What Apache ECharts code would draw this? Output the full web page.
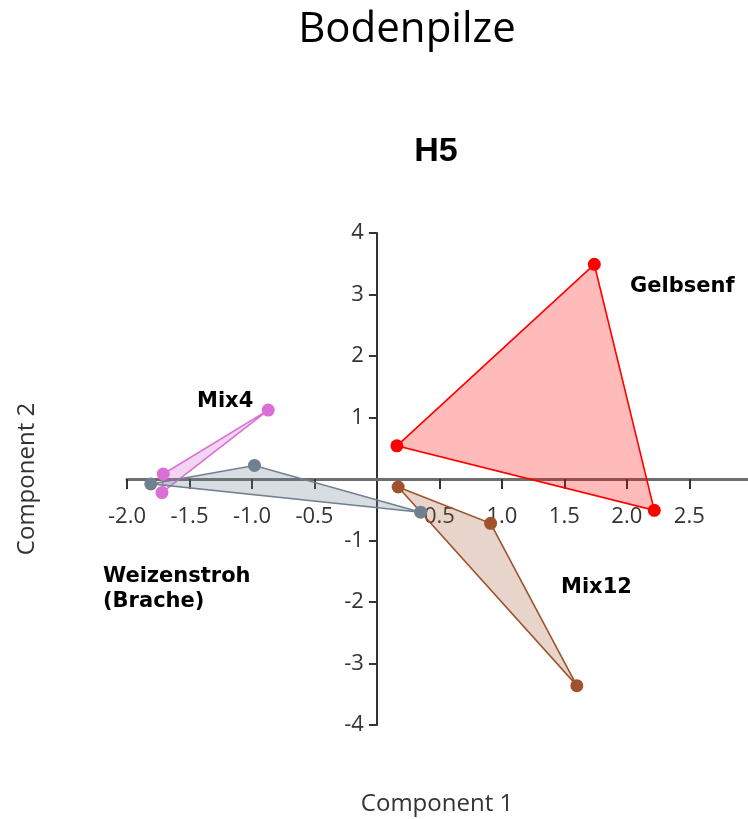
<!DOCTYPE html>
<html>
<head>
<meta charset="utf-8">
<script src="https://cdn.jsdelivr.net/npm/echarts@6/dist/echarts.min.js"></script>
<style>
html,body{margin:0;padding:0;background:#fff;}
#chart{width:748px;height:819px;}
</style>
</head>
<body>
<div id="chart"></div>
<script>
// Data (Component 1, Component 2)
const groupNames = ['Gelbsenf', 'Mix12', 'Weizenstroh (Brache)', 'Mix4'];
const gelbsenf = [[1.74, 3.49], [0.16, 0.54], [2.22, -0.51]];
const mix12 = [[0.17, -0.13], [0.91, -0.72], [1.60, -3.36]];
const weizenstroh = [[-1.81, -0.08], [-0.98, 0.22], [0.35, -0.54]];
const mix4 = [[-0.87, 1.12], [-1.71, 0.08], [-1.72, -0.22]];
const xTicks = [-2.0, -1.5, -1.0, -0.5, 0.5, 1.0, 1.5, 2.0, 2.5];
const yTicks = [-4, -3, -2, -1, 1, 2, 3, 4];
const xRange = [-2.0, 2.97];
const yRange = [-4, 4];

const groups = [
  {name: groupNames[3], data: mix4, line: '#da70d6', fill: 'rgba(218,112,214,0.3)', dot: '#da70d6'},
  {name: groupNames[2], data: weizenstroh, line: '#708090', fill: 'rgba(112,128,144,0.27)', dot: '#708090'},
  {name: groupNames[1], data: mix12, line: '#a0522d', fill: 'rgba(160,82,45,0.25)', dot: '#a0522d'},
  {name: groupNames[0], data: gelbsenf, line: '#ff0000', fill: 'rgba(255,0,0,0.27)', dot: '#ff0000'}
];

const series = [];
groups.forEach(g => {
  series.push({
    type: 'custom',
    name: g.name,
    data: g.data,
    z: 2,
    renderItem: function (params, api) {
      if (params.dataIndex !== 0) return null;
      const pts = g.data.map(p => api.coord(p));
      return {
        type: 'polygon',
        shape: {points: pts},
        style: {fill: g.fill, stroke: g.line, lineWidth: 1.6}
      };
    },
    silent: true
  });
  series.push({
    type: 'scatter',
    name: g.name + ' pts',
    data: g.data,
    symbolSize: 13,
    z: 3,
    itemStyle: {color: g.dot, opacity: 1},
    silent: true
  });
});

const GRID = {left: 127, right: 0, top: 233, bottom: 94};
const chart = echarts.init(document.getElementById('chart'), null, {renderer: 'canvas'});
const option = {
  animation: false,
  backgroundColor: '#ffffff',
  grid: Object.assign({containLabel: false}, GRID),
  xAxis: {
    type: 'value',
    min: xRange[0], max: xRange[1],
    position: 'bottom',
    axisLine: {onZero: false, lineStyle: {color: '#6e6e6e', width: 3}},
    axisTick: {show: true, inside: false, length: 10, customValues: xTicks, lineStyle: {color: '#333', width: 2}},
    axisLabel: {customValues: xTicks, formatter: v => v.toFixed(1), color: '#333', fontSize: 22, fontFamily: 'Open Sans', margin: 27},
    splitLine: {show: false}
  },
  yAxis: {
    type: 'value',
    min: yRange[0], max: yRange[1],
    position: 'left',
    axisLine: {onZero: false, lineStyle: {color: '#333', width: 2}},
    axisTick: {show: true, inside: false, length: 8, customValues: yTicks, lineStyle: {color: '#333', width: 2}},
    axisLabel: {customValues: yTicks, color: '#333', fontSize: 22, fontFamily: 'Open Sans', margin: 13},
    splitLine: {show: false}
  },
  graphic: [
    {type: 'text', x: 407, y: 30, style: {text: 'Bodenpilze', font: '42px "Open Sans"', fill: '#000', align: 'center', verticalAlign: 'middle'}},
    {type: 'text', x: 436, y: 152, style: {text: 'H5', font: 'bold 34px "Liberation Sans"', fill: '#000', align: 'center', verticalAlign: 'middle'}},
    {type: 'text', x: 437, y: 804, style: {text: 'Component 1', font: '24px "Open Sans"', fill: '#333', align: 'center', verticalAlign: 'middle'}},
    {type: 'text', x: 27, y: 479, rotation: Math.PI / 2, style: {text: 'Component 2', font: '24px "Open Sans"', fill: '#333', align: 'center', verticalAlign: 'middle'}},
    {type: 'text', x: 630, y: 287, style: {text: 'Gelbsenf', font: 'bold 21px "DejaVu Sans"', fill: '#000', align: 'left', verticalAlign: 'middle'}},
    {type: 'text', x: 197, y: 402, style: {text: 'Mix4', font: 'bold 21px "DejaVu Sans"', fill: '#000', align: 'left', verticalAlign: 'middle'}},
    {type: 'text', x: 561, y: 588, style: {text: 'Mix12', font: 'bold 21px "DejaVu Sans"', fill: '#000', align: 'left', verticalAlign: 'middle'}},
    {type: 'text', x: 103, y: 577, style: {text: 'Weizenstroh', font: 'bold 21px "DejaVu Sans"', fill: '#000', align: 'left', verticalAlign: 'middle'}},
    {type: 'text', x: 103, y: 602, style: {text: '(Brache)', font: 'bold 21px "DejaVu Sans"', fill: '#000', align: 'left', verticalAlign: 'middle'}}
  ],
  series: series
};
chart.setOption(option);
// Move both axes so that they cross at the origin (labels travel with them)
const origin = chart.convertToPixel({gridIndex: 0}, [0, 0]);
const corner = chart.convertToPixel({gridIndex: 0}, [xRange[0], yRange[0]]);
chart.setOption({
  xAxis: {offset: -(corner[1] - origin[1])},
  yAxis: {offset: -(origin[0] - corner[0])}
});
</script>
</body>
</html>
